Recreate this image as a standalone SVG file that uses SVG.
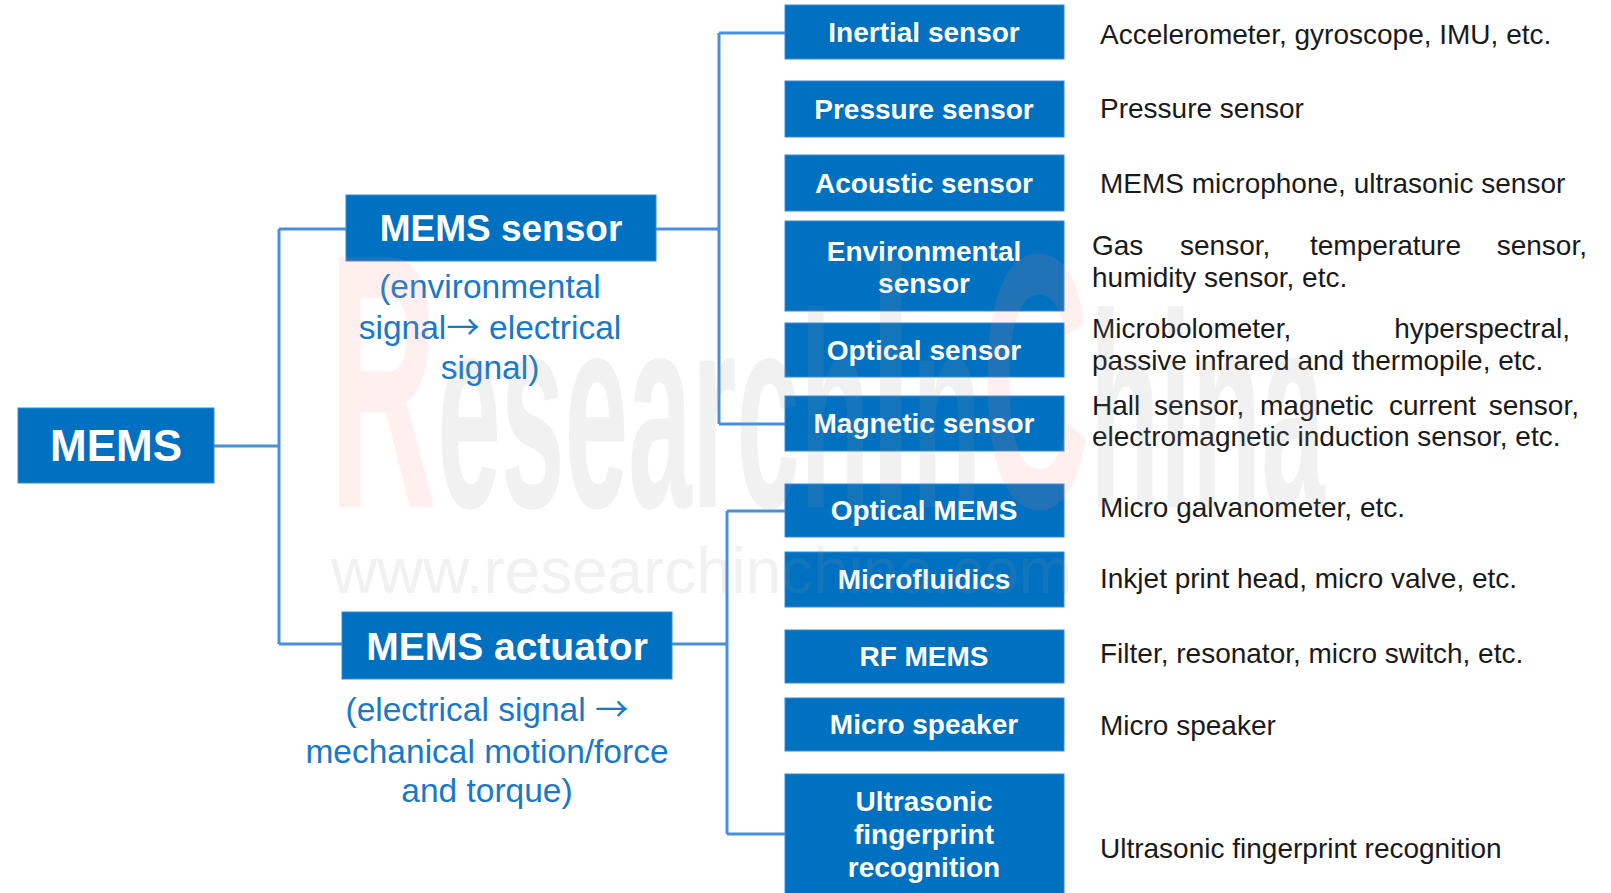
<svg xmlns="http://www.w3.org/2000/svg" width="1611" height="893" viewBox="0 0 1611 893">
<style>
.box{fill:#0070C0;stroke:#3A8AD4;stroke-width:1}
.bt{font-family:"Liberation Sans",Arial,sans-serif;font-weight:bold;fill:#ffffff;text-anchor:middle}
.s28{font-size:28px}
.sub{font-family:"Liberation Sans",Arial,sans-serif;font-size:33.5px;fill:#1A78C8;text-anchor:middle}
.arr{font-family:"Noto Sans CJK SC","Liberation Sans",sans-serif}
.desc{font-family:"Liberation Sans",Arial,sans-serif;font-size:28px;fill:#1A1A1A}
.conn{fill:none;stroke:#4A8FD9;stroke-width:3;stroke-linejoin:miter}
.wm{font-family:"Liberation Sans",Arial,sans-serif;fill:#999999;opacity:0.13}
.wmr{fill:#FF8A8A}
</style>
<rect width="1611" height="893" fill="#ffffff"/>

<g id="connectors">
<path class="conn" d="M214,446 H279 M279,229 V644 M279,229 H346 M279,644 H342"/>
<path class="conn" d="M656,229 H719 M719,33 V424 M719,33 H785 M719,424 H785"/>
<path class="conn" d="M672,644 H727 M727,511 V834 M727,511 H785 M727,834 H785"/>
</g>

<g id="node-mems">
<rect class="box" x="18" y="408" width="196" height="75"/>
<text class="bt" x="116" y="461" font-size="44">MEMS</text>
</g>

<g id="node-mems-sensor">
<rect class="box" x="346" y="195" width="310" height="66"/>
<text class="bt" x="501" y="241" font-size="37">MEMS sensor</text>
<text class="sub" x="490" y="298">(environmental</text>
<text class="sub" x="490" y="339">signal<tspan class="arr">→</tspan> electrical</text>
<text class="sub" x="490" y="379">signal)</text>
</g>

<g id="node-mems-actuator">
<rect class="box" x="342" y="612" width="330" height="67"/>
<text class="bt" x="507" y="660" font-size="39">MEMS actuator</text>
<text class="sub" x="487" y="721">(electrical signal <tspan class="arr">→</tspan></text>
<text class="sub" x="487" y="763">mechanical motion/force</text>
<text class="sub" x="487" y="802">and torque)</text>
</g>

<g id="node-inertial">
<rect class="box" x="785" y="5" width="279" height="54"/>
<text class="bt s28" x="924" y="42">Inertial sensor</text>
<text class="desc" x="1100" y="44">Accelerometer, gyroscope, IMU, etc.</text>
</g>

<g id="node-pressure">
<rect class="box" x="785" y="81" width="279" height="56"/>
<text class="bt s28" x="924" y="119">Pressure sensor</text>
<text class="desc" x="1100" y="118">Pressure sensor</text>
</g>

<g id="node-acoustic">
<rect class="box" x="785" y="155" width="279" height="56"/>
<text class="bt s28" x="924" y="193">Acoustic sensor</text>
<text class="desc" x="1100" y="193">MEMS microphone, ultrasonic sensor</text>
</g>

<g id="node-environmental">
<rect class="box" x="785" y="221" width="279" height="90"/>
<text class="bt s28" x="924" y="261">Environmental</text>
<text class="bt s28" x="924" y="293">sensor</text>
<text class="desc" y="255"><tspan x="1092">Gas</tspan><tspan x="1180">sensor,</tspan><tspan x="1310">temperature</tspan></text>
<text class="desc" x="1587" y="255" text-anchor="end">sensor,</text>
<text class="desc" x="1092" y="287">humidity sensor, etc.</text>
</g>

<g id="node-optical">
<rect class="box" x="785" y="323" width="279" height="54"/>
<text class="bt s28" x="924" y="360">Optical sensor</text>
<text class="desc" x="1092" y="338">Microbolometer,</text>
<text class="desc" x="1570" y="338" text-anchor="end">hyperspectral,</text>
<text class="desc" x="1092" y="370">passive infrared and thermopile, etc.</text>
</g>

<g id="node-magnetic">
<rect class="box" x="785" y="396" width="279" height="55"/>
<text class="bt s28" x="924" y="433">Magnetic sensor</text>
<text class="desc" y="415"><tspan x="1092">Hall</tspan><tspan x="1154">sensor,</tspan><tspan x="1260">magnetic</tspan><tspan x="1389">current</tspan></text>
<text class="desc" x="1579" y="415" text-anchor="end">sensor,</text>
<text class="desc" x="1092" y="446">electromagnetic induction sensor, etc.</text>
</g>

<g id="node-optical-mems">
<rect class="box" x="785" y="484" width="279" height="53"/>
<text class="bt s28" x="924" y="520">Optical MEMS</text>
<text class="desc" x="1100" y="517">Micro galvanometer, etc.</text>
</g>

<g id="node-microfluidics">
<rect class="box" x="785" y="552" width="279" height="55"/>
<text class="bt s28" x="924" y="589">Microfluidics</text>
<text class="desc" x="1100" y="588">Inkjet print head, micro valve, etc.</text>
</g>

<g id="node-rf-mems">
<rect class="box" x="785" y="630" width="279" height="53"/>
<text class="bt s28" x="924" y="666">RF MEMS</text>
<text class="desc" x="1100" y="663">Filter, resonator, micro switch, etc.</text>
</g>

<g id="node-micro-speaker">
<rect class="box" x="785" y="698" width="279" height="53"/>
<text class="bt s28" x="924" y="734">Micro speaker</text>
<text class="desc" x="1100" y="735">Micro speaker</text>
</g>

<g id="node-ultrasonic">
<rect class="box" x="785" y="774" width="279" height="125"/>
<text class="bt s28" x="924" y="811">Ultrasonic</text>
<text class="bt s28" x="924" y="844">fingerprint</text>
<text class="bt s28" x="924" y="877">recognition</text>
<text class="desc" x="1100" y="858">Ultrasonic fingerprint recognition</text>
</g>

<g id="watermark">
<text class="wm" x="329" y="507" font-weight="bold" textLength="996" lengthAdjust="spacingAndGlyphs"><tspan class="wmr" font-size="363">R</tspan><tspan font-size="277">esearch</tspan><tspan font-size="363">I</tspan><tspan font-size="277">n</tspan><tspan class="wmr" font-size="363">C</tspan><tspan font-size="277">hina</tspan></text>
<text class="wm" x="331" y="593" font-size="64" textLength="741" lengthAdjust="spacingAndGlyphs">www.researchinchina.com</text>
</g>
</svg>
